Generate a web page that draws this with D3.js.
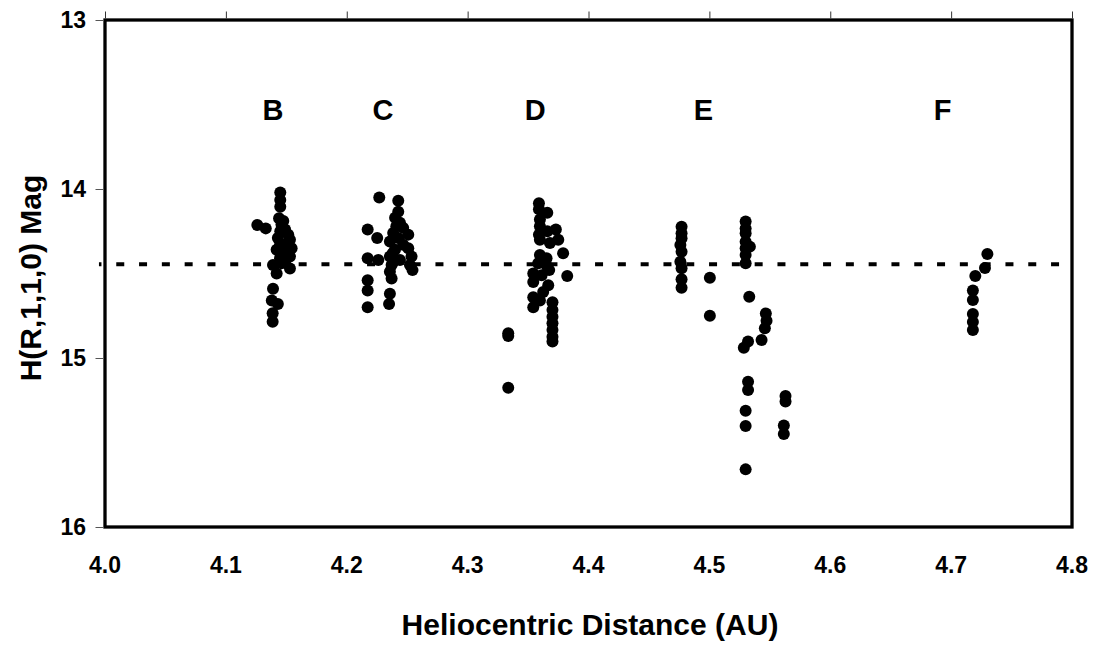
<!DOCTYPE html>
<html><head><meta charset="utf-8">
<script src="https://cdn.jsdelivr.net/npm/d3@7"></script>
<style>
body{margin:0;background:#fff;}
text{font-family:"Liberation Sans",Arial,sans-serif;font-weight:bold;fill:#000;}
</style></head>
<body><svg id="chart" width="1097" height="646"></svg>
<script>
// ---- data ----
const xTicks = [4.0,4.1,4.2,4.3,4.4,4.5,4.6,4.7,4.8];
const yTicks = [13,14,15,16];
const groupNames = ["B","C","D","E","F"];
const groupLabelX = [4.139,4.230,4.356,4.495,4.693];
const groupLabelMag = 13.59;
const meanMag = 14.445;
const meanLineX = [3.995,4.8];

const groupB = [[4.145,14.02],[4.145,14.065],[4.145,14.105],[4.144,14.173],[4.126,14.213],[4.133,14.233],
 [4.1475,14.19],[4.149,14.24],[4.1516,14.27],[4.153,14.30],[4.143,14.29],[4.1448,14.33],[4.150,14.34],
 [4.1544,14.35],[4.142,14.36],[4.1475,14.38],[4.153,14.40],[4.1448,14.41],[4.149,14.43],[4.139,14.45],
 [4.153,14.47],[4.142,14.50],[4.139,14.59],[4.138,14.66],[4.143,14.68],[4.1387,14.735],[4.1387,14.785],
 [4.146,14.21],[4.145,14.25],[4.151,14.32],[4.146,14.44]];
const groupC = [[4.2269,14.05],[4.2426,14.07],[4.2173,14.24],[4.2252,14.29],[4.2173,14.41],[4.2261,14.42],
 [4.2173,14.54],[4.2173,14.60],[4.2173,14.70],[4.2357,14.62],[4.235,14.68],[4.2426,14.134],[4.240,14.17],
 [4.244,14.20],[4.2467,14.23],[4.2384,14.26],[4.2509,14.27],[4.2426,14.29],[4.2357,14.31],[4.2467,14.33],
 [4.2509,14.35],[4.2399,14.36],[4.2536,14.40],[4.2357,14.40],[4.244,14.42],[4.2523,14.45],[4.2371,14.45],
 [4.2544,14.48],[4.2357,14.49],[4.2371,14.53],[4.241,14.22],[4.238,14.38]];
const groupD = [[4.359,14.085],[4.359,14.12],[4.3659,14.14],[4.3598,14.18],[4.3598,14.22],[4.373,14.24],
 [4.3659,14.25],[4.359,14.27],[4.375,14.30],[4.3598,14.30],[4.3681,14.32],[4.379,14.38],[4.3598,14.39],
 [4.3653,14.41],[4.3584,14.44],[4.3659,14.46],[4.3543,14.50],[4.3612,14.51],[4.3675,14.48],[4.3824,14.515],
 [4.3543,14.55],[4.3667,14.57],[4.3625,14.61],[4.3543,14.64],[4.3598,14.66],[4.3543,14.70],[4.3702,14.67],
 [4.3702,14.716],[4.3702,14.756],[4.3702,14.795],[4.3702,14.834],[4.3702,14.874],[4.3702,14.903],
 [4.3336,14.854],[4.3336,15.176],[4.3336,14.87]];
const groupE = [[4.477,14.223],[4.477,14.262],[4.477,14.292],[4.476,14.331],[4.477,14.371],[4.476,14.43],
 [4.477,14.469],[4.477,14.534],[4.477,14.584],[4.5004,14.525],[4.5004,14.75],
 [4.530,14.193],[4.530,14.233],[4.530,14.262],[4.530,14.312],[4.530,14.351],[4.530,14.391],[4.530,14.44],
 [4.5335,14.341],[4.533,14.637],[4.5467,14.736],[4.5473,14.78],[4.5459,14.824],[4.5432,14.893],
 [4.532,14.903],[4.5285,14.939],[4.532,15.14],[4.532,15.189],[4.530,15.312],[4.530,15.402],[4.530,15.659],
 [4.563,15.225],[4.563,15.258],[4.5616,15.40],[4.5616,15.45]];
const groupF = [[4.730,14.385],[4.728,14.467],[4.720,14.515],[4.718,14.60],[4.718,14.657],[4.718,14.74],
 [4.718,14.787],[4.718,14.834]];
const groups = [groupB,groupC,groupD,groupE,groupF];

// ---- chart ----
const svg = d3.select("#chart");
const x = d3.scaleLinear().domain([4.0,4.8]).range([105,1072]);
const y = d3.scaleLinear().domain([13,16]).range([20,527]);

// points
groups.forEach(g=>{
  svg.append("g").selectAll("circle").data(g).join("circle")
    .attr("cx",d=>x(d[0])).attr("cy",d=>y(d[1])).attr("r",6).attr("fill","#000");
});

// mean dashed line
svg.append("line")
  .attr("x1",x(meanLineX[0])).attr("x2",x(meanLineX[1]))
  .attr("y1",y(meanMag)).attr("y2",y(meanMag))
  .attr("stroke","#000").attr("stroke-width",4)
  .attr("stroke-dasharray","8 14.8").attr("stroke-dashoffset",5.5);

// frame
svg.append("rect").attr("x",x(4.0)).attr("y",y(13))
  .attr("width",x(4.8)-x(4.0)).attr("height",y(16)-y(13))
  .attr("fill","none").attr("stroke","#000").attr("stroke-width",3.3);

// top ticks (x axis crosses at 13)
const xTop = d3.axisTop(x).tickValues(xTicks).tickSize(7).tickFormat("");
const gTop = svg.append("g").attr("transform",`translate(0,${y(13)-1.5})`).call(xTop);
gTop.select(".domain").remove();
gTop.selectAll("line").attr("stroke","#333").attr("stroke-width",1);

// left ticks
const yLeft = d3.axisLeft(y).tickValues(yTicks).tickSize(8).tickFormat("");
const gLeft = svg.append("g").attr("transform",`translate(${x(4.0)-1.5},0)`).call(yLeft);
gLeft.select(".domain").remove();
gLeft.selectAll("line").attr("stroke","#555").attr("stroke-width",1);

// x tick labels
svg.append("g").selectAll("text").data(xTicks).join("text")
  .attr("x",d=>x(d)).attr("y",573).attr("text-anchor","middle")
  .style("font-size","23px").text(d=>d3.format(".1f")(d));

// y tick labels
svg.append("g").selectAll("text").data(yTicks).join("text")
  .attr("x",86).attr("y",d=>y(d)+8).attr("text-anchor","end")
  .style("font-size","23px").text(d=>d);

// group labels
svg.append("g").selectAll("text").data(groupNames).join("text")
  .attr("x",(d,i)=>x(groupLabelX[i])).attr("y",y(groupLabelMag)).attr("text-anchor","middle")
  .style("font-size","29px").text(d=>d);

// axis titles
svg.append("text").attr("x",590).attr("y",635).attr("text-anchor","middle")
  .style("font-size","30px").text("Heliocentric Distance (AU)");
svg.append("text").attr("transform","translate(41,278) rotate(-90)").attr("text-anchor","middle")
  .style("font-size","30px").text("H(R,1,1,0) Mag");
</script></body></html>
